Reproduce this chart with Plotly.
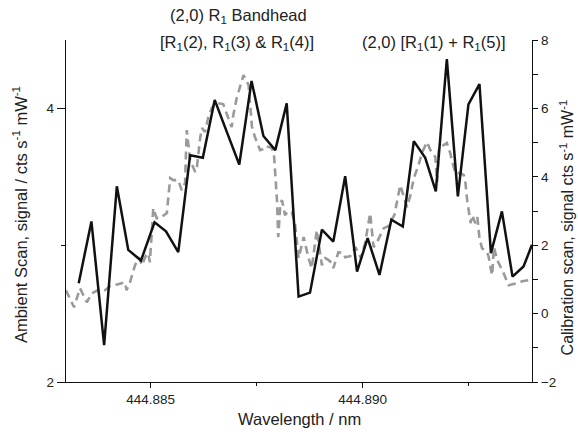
import plotly.graph_objects as go

# Ambient scan (left axis) — wavelength (nm) and signal
ambient_wl = [444.88330, 444.88360, 444.88390, 444.88420, 444.88447, 444.88477, 444.88509,
              444.88536, 444.88565, 444.88593, 444.88623, 444.88651, 444.88680, 444.88709,
              444.88738, 444.88766, 444.88794, 444.88821, 444.88849, 444.88876, 444.88904,
              444.88931, 444.88959, 444.88987, 444.89012, 444.89040, 444.89068, 444.89095,
              444.89121, 444.89148, 444.89173, 444.89199, 444.89225, 444.89250, 444.89276,
              444.89303, 444.89329, 444.89354, 444.89380, 444.89400]
ambient_signal = [2.722, 3.174, 2.269, 3.431, 2.966, 2.888, 3.167, 3.101, 2.949, 3.658,
                  3.639, 4.062, 3.825, 3.590, 4.201, 3.798, 3.695, 4.037, 2.624, 2.653,
                  3.113, 3.027, 3.504, 2.807, 3.052, 2.783, 3.186, 3.137, 3.761, 3.639,
                  3.394, 4.360, 3.357, 4.030, 4.177, 2.942, 3.247, 2.770, 2.844, 3.003]

# Calibration scan (right axis)
calib_wl = [444.88300, 444.88319, 444.88333, 444.88349, 444.88361, 444.88380, 444.88392,
            444.88404, 444.88423, 444.88439, 444.88443, 444.88451, 444.88463, 444.88471,
            444.88475, 444.88479, 444.88489, 444.88494, 444.88498, 444.88506, 444.88514,
            444.88522, 444.88538, 444.88546, 444.88553, 444.88565, 444.88573, 444.88581,
            444.88585, 444.88593, 444.88605, 444.88609, 444.88617, 444.88621, 444.88628,
            444.88636, 444.88644, 444.88656, 444.88671, 444.88678, 444.88691, 444.88695,
            444.88703, 444.88719, 444.88731, 444.88739, 444.88746, 444.88758, 444.88765,
            444.88772, 444.88786, 444.88791, 444.88798, 444.88801, 444.88806, 444.88810,
            444.88817, 444.88824, 444.88833, 444.88841, 444.88849, 444.88861, 444.88865,
            444.88872, 444.88880, 444.88888, 444.88892, 444.88904, 444.88912, 444.88920,
            444.88928, 444.88931, 444.88943, 444.88955, 444.88959, 444.88971, 444.88983,
            444.88991, 444.88996, 444.89006, 444.89018, 444.89022, 444.89026, 444.89034,
            444.89050, 444.89061, 444.89075, 444.89089, 444.89097, 444.89105, 444.89113,
            444.89121, 444.89132, 444.89141, 444.89152, 444.89160, 444.89172, 444.89176,
            444.89180, 444.89184, 444.89199, 444.89207, 444.89214, 444.89219, 444.89231,
            444.89239, 444.89243, 444.89247, 444.89255, 444.89259, 444.89266, 444.89271,
            444.89276, 444.89282, 444.89294, 444.89298, 444.89302, 444.89306, 444.89310,
            444.89318, 444.89333, 444.89345, 444.89354, 444.89365, 444.89377, 444.89392,
            444.89400]
calib_signal = [0.684, 0.186, 0.742, 0.332, 0.596, 0.713, 0.684, 0.801, 0.859, 0.918,
                0.684, 0.918, 1.415, 1.649, 1.562, 1.415, 1.708, 1.766, 1.503, 3.083,
                2.791, 2.791, 2.937, 3.961, 3.903, 3.903, 3.610, 3.815, 5.366, 4.488,
                4.137, 4.283, 5.161, 5.425, 5.308, 5.747, 6.010, 6.156, 6.127, 5.893,
                5.454, 5.805, 6.303, 6.976, 6.683, 5.454, 5.161, 4.781, 4.810, 4.898,
                4.839, 4.634, 3.317, 2.235, 3.230, 3.317, 2.878, 2.996, 2.966, 2.586,
                1.620, 2.235, 2.001, 1.649, 1.327, 2.001, 2.440, 1.415, 1.620, 1.562,
                1.474, 1.327, 1.796, 1.766, 1.649, 1.679, 1.942, 1.766, 1.620, 2.059,
                2.937, 2.440, 1.942, 2.088, 2.498, 2.557, 2.878, 3.756, 3.464, 3.113,
                3.464, 3.961, 4.342, 4.722, 5.015, 4.781, 4.576, 3.844, 4.781, 4.869,
                4.986, 4.693, 4.342, 4.108, 4.108, 4.049, 3.815, 3.317, 2.644, 2.878,
                2.644, 2.820, 2.205, 1.913, 1.796, 1.649, 1.357, 1.123, 1.942, 1.562,
                1.181, 0.830, 0.859, 0.888, 0.947, 0.976, 0.918]

x_range = [444.883, 444.894]
left_range = [2, 4.5]
right_range = [-2, 8]

FONT = "Liberation Sans, Arial, Helvetica, sans-serif"
TXT = "#222222"

fig = go.Figure()
fig.add_trace(go.Scatter(x=calib_wl, y=calib_signal, mode="lines", yaxis="y",
                         line=dict(color="#9a9a9a", width=2.6, dash="8px,5px"),
                         name="Calibration scan"))
fig.add_trace(go.Scatter(x=ambient_wl, y=ambient_signal, mode="lines", yaxis="y2",
                         line=dict(color="#111111", width=2.5), name="Ambient scan"))

axis_common = dict(showgrid=False, zeroline=False, showline=True, linecolor="#111111",
                   linewidth=1.4, ticks="outside", tickcolor="#111111", tickwidth=1.3,
                   tickfont=dict(family=FONT, size=13.5, color=TXT))

fig.update_layout(
    width=578, height=434,
    margin=dict(l=66, r=46, t=40, b=52),
    paper_bgcolor="white", plot_bgcolor="white",
    showlegend=False,
    font=dict(family=FONT, color=TXT),
    xaxis=dict(range=x_range, tick0=444.885, dtick=0.005, tickformat=".3f", ticklen=5,
               minor=dict(dtick=0.0025, ticklen=3, ticks="outside", tickcolor="#111111",
                          tickwidth=1.3),
               **axis_common),
    yaxis=dict(range=right_range, side="right", tick0=0, dtick=2, ticklen=5,
               minor=dict(dtick=1, ticklen=5, ticks="outside", tickcolor="#111111",
                          tickwidth=1.3),
               **axis_common),
    yaxis2=dict(range=left_range, side="left", overlaying="y", tick0=2, dtick=2, ticklen=8,
                minor=dict(dtick=1, ticklen=4, ticks="outside", tickcolor="#111111",
                           tickwidth=1.3),
                **axis_common),
)

ann_font = dict(family=FONT, size=16.5, color=TXT)
annotations = [
    dict(text="(2,0) R<sub>1</sub> Bandhead", x=0.371, y=1.070),
    dict(text="[R<sub>1</sub>(2), R<sub>1</sub>(3) &amp; R<sub>1</sub>(4)]", x=0.367, y=0.991),
    dict(text="(2,0) [R<sub>1</sub>(1) + R<sub>1</sub>(5)]", x=0.790, y=0.991),
]
for a in annotations:
    fig.add_annotation(xref="paper", yref="paper", showarrow=False, xanchor="center",
                       yanchor="middle", font=ann_font, **a)

# axis titles
fig.add_annotation(text="Wavelength / nm", xref="paper", yref="paper", x=0.502, y=0,
                   yshift=-37, showarrow=False, xanchor="center", yanchor="middle",
                   font=ann_font)
fig.add_annotation(text="Ambient Scan, signal / cts s<sup>-1</sup> mW<sup>-1</sup>",
                   xref="paper", yref="paper", x=0, xshift=-46, y=0.488, textangle=-90,
                   showarrow=False, xanchor="center", yanchor="middle", font=ann_font)
fig.add_annotation(text="Calibration scan, signal cts s<sup>-1</sup> mW<sup>-1</sup>",
                   xref="paper", yref="paper", x=1, xshift=35, y=0.452, textangle=-90,
                   showarrow=False, xanchor="center", yanchor="middle",
                   font=dict(family=FONT, size=16, color=TXT))

fig.write_html("out.html")
